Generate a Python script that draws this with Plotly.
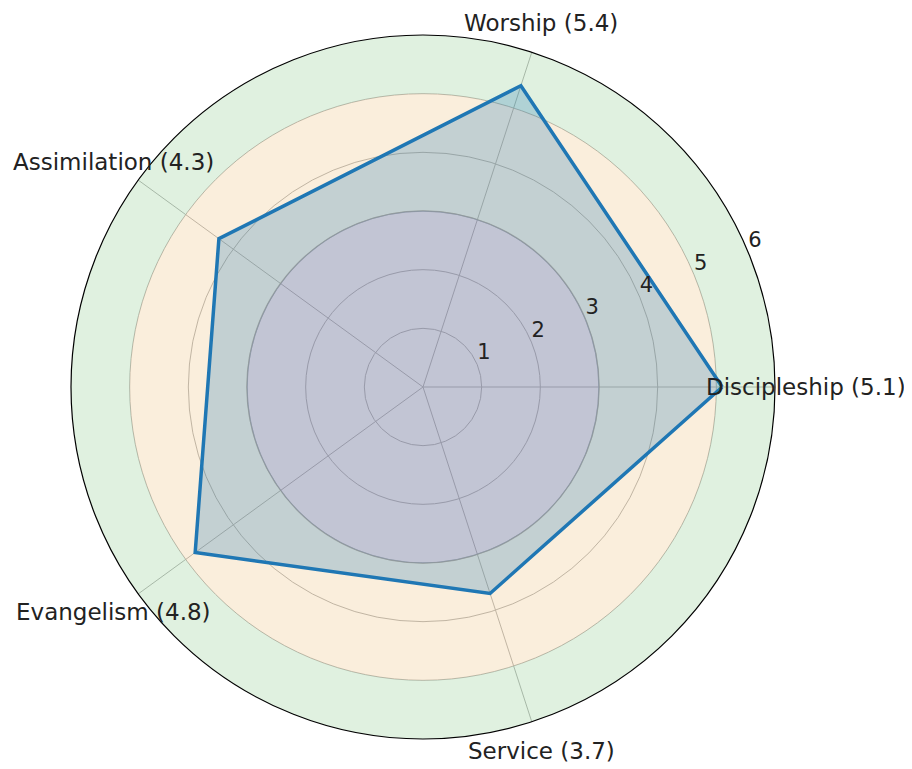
import math
import plotly.graph_objects as go

categories = ["Discipleship", "Worship", "Assimilation", "Evangelism", "Service"]
values = [5.1, 5.4, 4.3, 4.8, 3.7]
angles = [0, 72, 144, 216, 288]
radial_ticks = [1, 2, 3, 4, 5, 6]
band_bases = [0, 3, 5]
band_sizes = [3, 2, 1]
band_colors = ["rgba(214,39,40,0.15)", "rgba(222,142,22,0.15)", "rgba(44,160,44,0.15)"]

labels = [f"{c} ({v})" for c, v in zip(categories, values)]

W, H = 912, 769
# polar geometry (screen pixels); page has an 8px body offset
cx, cy, rad = 423, 387, 352
shift = 8
dom_x = [(cx - rad - shift) / W, (cx + rad - shift) / W]
dom_y = [(H - (cy + rad) + shift) / H, (H - (cy - rad) + shift) / H]

fig = go.Figure()

# background bands
for i, (base, size, col) in enumerate(zip(band_bases, band_sizes, band_colors)):
    fig.add_trace(go.Barpolar(
        r=[size], base=[base], theta=[180], width=[360],
        marker=dict(color=col,
                    line=dict(color="rgba(170,160,160,0.7)" if i == 0 else "rgba(0,0,0,0)",
                              width=1.5 if i == 0 else 0)),
        hoverinfo="skip", showlegend=False))

# radar polygon
fig.add_trace(go.Scatterpolar(
    r=values + [values[0]], theta=angles + [angles[0]],
    mode="lines", fill="toself",
    fillcolor="rgba(31,119,180,0.25)",
    line=dict(color="#1f77b4", width=3.5),
    showlegend=False))

# radial tick labels
fig.add_trace(go.Scatterpolar(
    r=radial_ticks, theta=[22.5] * len(radial_ticks), mode="text",
    text=[str(t) for t in radial_ticks], textposition="top right",
    cliponaxis=False,
    textfont=dict(family="DejaVu Sans", size=21, color="#222222"),
    showlegend=False, hoverinfo="skip"))

# angular labels as annotations around the circle
label_r = rad * 6.53 / 6
annotations = []
for lab, ang in zip(labels, angles):
    px = cx + label_r * math.cos(math.radians(ang)) - shift
    py = cy - label_r * math.sin(math.radians(ang)) - shift
    annotations.append(dict(x=px / W, y=1 - py / H, xref="paper", yref="paper",
                            text=lab, showarrow=False, xanchor="center", yanchor="middle",
                            font=dict(family="DejaVu Sans", size=23, color="#222222")))

fig.update_layout(
    width=W, height=H,
    margin=dict(l=0, r=0, t=0, b=0),
    paper_bgcolor="white",
    font=dict(family="DejaVu Sans", size=21, color="#222222"),
    annotations=annotations,
    polar=dict(
        domain=dict(x=dom_x, y=dom_y),
        bgcolor="white",
        barmode="overlay",
        radialaxis=dict(range=[0, 6], tickvals=radial_ticks, showticklabels=False,
                        ticks="", showline=False, gridcolor="#bdbdbd", gridwidth=1,
                        angle=22.5),
        angularaxis=dict(type="linear", thetaunit="degrees", rotation=0,
                         direction="counterclockwise", tickvals=angles,
                         showticklabels=False, ticks="", showline=True,
                         linecolor="black", linewidth=1.2,
                         gridcolor="#bdbdbd", gridwidth=1),
    ),
)

fig.write_html("out.html")
